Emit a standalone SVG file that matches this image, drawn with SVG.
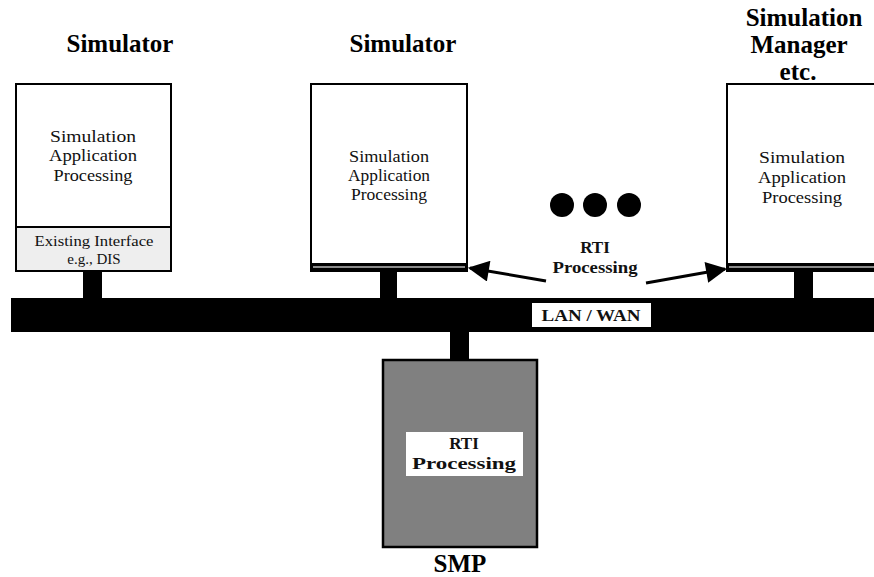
<svg xmlns="http://www.w3.org/2000/svg" width="874" height="577" viewBox="0 0 874 577">
  <defs>
    <style>
      .box { fill: #ffffff; stroke: #000000; stroke-width: 2; }
      .iface { fill: #eeeeee; stroke: #000000; stroke-width: 2; }
      .smp { fill: #808080; stroke: #000000; stroke-width: 2.5; }
      .title { font-family: "Liberation Serif", "Times New Roman", serif; font-weight: bold; font-size: 25px; fill: #000; text-anchor: middle; }
      .body { font-family: "Liberation Serif", "Times New Roman", serif; font-size: 17px; fill: #111; text-anchor: middle; }
      .small { font-family: "Liberation Serif", "Times New Roman", serif; font-size: 15px; fill: #111; text-anchor: middle; }
      .bold { font-family: "Liberation Serif", "Times New Roman", serif; font-weight: bold; font-size: 17px; fill: #111; text-anchor: middle; }
      .strip { fill: #000000; }
      .stripline { stroke: #8a8a8a; stroke-width: 2; }
      .arrow { stroke: #000000; stroke-width: 3; fill: none; }
    </style>
    <marker id="head" viewBox="0 0 10 10" refX="9" refY="5" markerWidth="10" markerHeight="7" markerUnits="strokeWidth" orient="auto">
      <path d="M0,0 L10,5 L0,10 z" fill="#000000"/>
    </marker>
  </defs>

  <!-- network bus and drops -->
  <g id="network">
    <rect x="11" y="298" width="870" height="34" fill="#000000"/>
    <rect x="83" y="270" width="19" height="29" fill="#000000"/>
    <rect x="380" y="270" width="17" height="29" fill="#000000"/>
    <rect x="794" y="270" width="19" height="29" fill="#000000"/>
    <rect x="450" y="331" width="19" height="30" fill="#000000"/>
    <rect x="532" y="303" width="119" height="24" fill="#ffffff"/>
    <text class="bold" x="591" y="321" textLength="99" lengthAdjust="spacingAndGlyphs">LAN / WAN</text>
  </g>

  <!-- simulator with existing interface -->
  <g id="simulator-left">
    <text class="title" x="120" y="52">Simulator</text>
    <rect class="box" x="16" y="84" width="155" height="143"/>
    <rect class="iface" x="16" y="227" width="155" height="44"/>
    <text class="body" x="93" y="142" textLength="86" lengthAdjust="spacingAndGlyphs">Simulation</text>
    <text class="body" x="93" y="161" textLength="88" lengthAdjust="spacingAndGlyphs">Application</text>
    <text class="body" x="93" y="181" textLength="79" lengthAdjust="spacingAndGlyphs">Processing</text>
    <text class="small" x="94" y="246" textLength="119" lengthAdjust="spacingAndGlyphs">Existing Interface</text>
    <text class="small" x="94" y="264">e.g., DIS</text>
  </g>

  <!-- simulator with RTI -->
  <g id="simulator-mid">
    <text class="title" x="403" y="52">Simulator</text>
    <rect class="box" x="311" y="84" width="156" height="187"/>
    <rect class="strip" x="311" y="263" width="156" height="8"/>
    <line class="stripline" x1="313" y1="267" x2="465" y2="267"/>
    <text class="body" x="389" y="162" textLength="80" lengthAdjust="spacingAndGlyphs">Simulation</text>
    <text class="body" x="389" y="181" textLength="82" lengthAdjust="spacingAndGlyphs">Application</text>
    <text class="body" x="389" y="200" textLength="76" lengthAdjust="spacingAndGlyphs">Processing</text>
  </g>

  <!-- simulation manager with RTI -->
  <g id="manager">
    <text class="title" x="804" y="26">Simulation</text>
    <text class="title" x="799" y="53">Manager</text>
    <text class="title" x="798" y="80">etc.</text>
    <rect class="box" x="727" y="84" width="160" height="187"/>
    <rect class="strip" x="727" y="263" width="160" height="8"/>
    <line class="stripline" x1="729" y1="267" x2="880" y2="267"/>
    <text class="body" x="802" y="163" textLength="86" lengthAdjust="spacingAndGlyphs">Simulation</text>
    <text class="body" x="802" y="183" textLength="88" lengthAdjust="spacingAndGlyphs">Application</text>
    <text class="body" x="802" y="203" textLength="80" lengthAdjust="spacingAndGlyphs">Processing</text>
  </g>

  <!-- more participants -->
  <g id="ellipsis">
    <circle cx="562" cy="205" r="12" fill="#000000"/>
    <circle cx="595" cy="205" r="12" fill="#000000"/>
    <circle cx="629" cy="205" r="12" fill="#000000"/>
  </g>

  <!-- RTI processing label and pointers -->
  <g id="rti-label">
    <text class="bold" x="595" y="253">RTI</text>
    <text class="bold" x="595" y="273" textLength="85" lengthAdjust="spacingAndGlyphs">Processing</text>
  </g>
  <g id="connectors">
    <line class="arrow" x1="546" y1="281" x2="470" y2="268" marker-end="url(#head)"/>
    <line class="arrow" x1="646" y1="283" x2="725" y2="269" marker-end="url(#head)"/>
  </g>

  <!-- SMP node -->
  <g id="smp">
    <rect class="smp" x="383" y="360" width="154" height="187"/>
    <rect x="406" y="432" width="117" height="44" fill="#ffffff"/>
    <text class="bold" x="464" y="449">RTI</text>
    <text class="bold" x="464" y="469" textLength="104" lengthAdjust="spacingAndGlyphs">Processing</text>
    <text class="title" x="460" y="572" font-size="22">SMP</text>
  </g>
</svg>
